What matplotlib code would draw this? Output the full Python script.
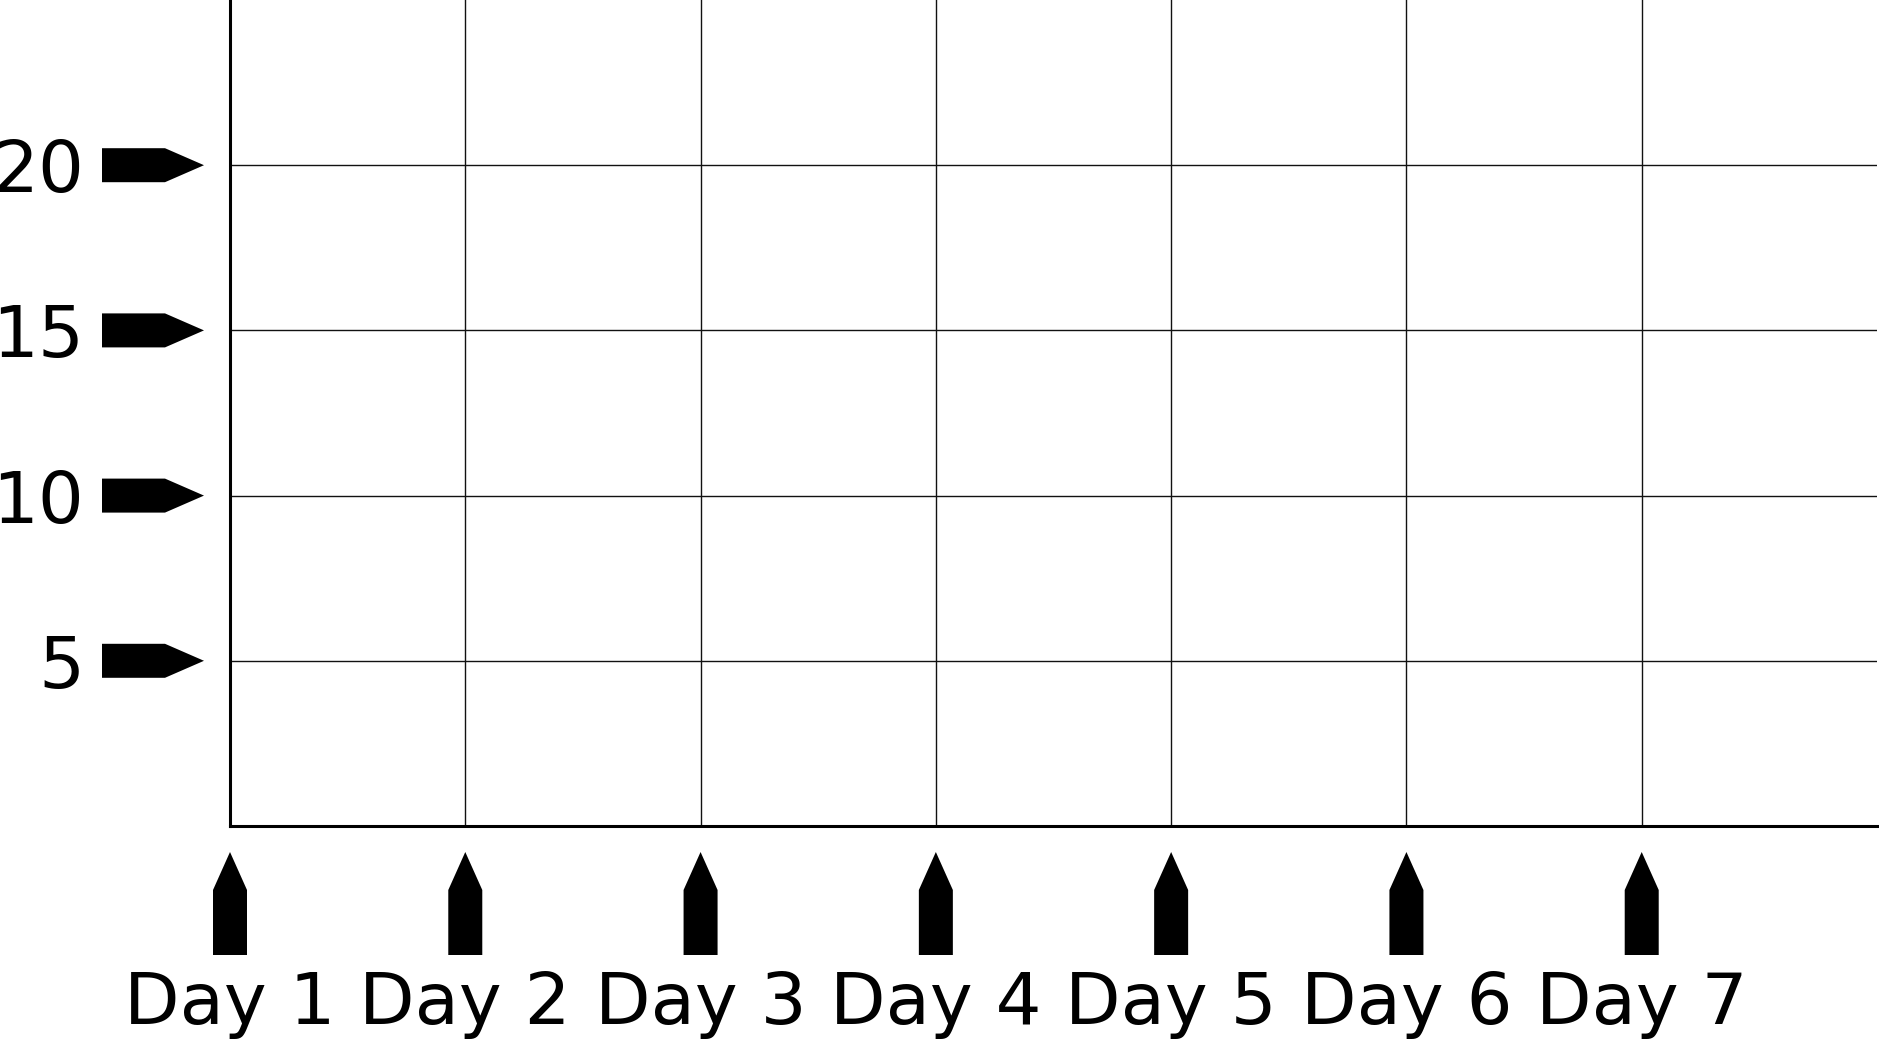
import matplotlib
matplotlib.use("Agg")
import matplotlib.pyplot as plt
import matplotlib.transforms as mtransforms
from matplotlib.patches import Polygon

days = ["Day 1", "Day 2", "Day 3", "Day 4", "Day 5", "Day 6", "Day 7"]
day_pos = [1, 2, 3, 4, 5, 6, 7]
y_ticks = [5, 10, 15, 20]
x_range = [1, 8]
y_range = [0, 25]

fig = plt.figure(figsize=(18.79, 10.40), dpi=100)
ax = fig.add_axes([230 / 1879, 214 / 1040, 1647 / 1879, 826 / 1040])

# arrow shapes, in inches relative to where the tick sits on the spine
up_arrow = [(-0.17, -1.29), (0.17, -1.29), (0.17, -0.64), (0.0, -0.26), (-0.17, -0.64)]
right_arrow = [(-1.28, -0.17), (-0.65, -0.17), (-0.26, 0.0), (-0.65, 0.17), (-1.28, 0.17)]

for x in day_pos:
    tr = fig.dpi_scale_trans + mtransforms.ScaledTranslation(x, 0, ax.get_xaxis_transform())
    ax.add_patch(Polygon(up_arrow, closed=True, facecolor="black", edgecolor="none",
                         transform=tr, clip_on=False))

for y in y_ticks:
    tr = fig.dpi_scale_trans + mtransforms.ScaledTranslation(0, y, ax.get_yaxis_transform())
    ax.add_patch(Polygon(right_arrow, closed=True, facecolor="black", edgecolor="none",
                         transform=tr, clip_on=False))

ax.set_xlim(x_range)
ax.set_ylim(y_range)
ax.set_xticks(day_pos)
ax.set_xticklabels(days)
ax.set_yticks(y_ticks)

ax.grid(True, color="#111111", linewidth=1.0)
ax.set_axisbelow(True)
ax.tick_params(axis="both", length=0, labelsize=52)
ax.tick_params(axis="x", pad=104)
ax.tick_params(axis="y", pad=105)

for side in ["top", "right"]:
    ax.spines[side].set_visible(False)
for side in ["left", "bottom"]:
    ax.spines[side].set_linewidth(2.2)

fig.savefig("out.png", dpi=100)
